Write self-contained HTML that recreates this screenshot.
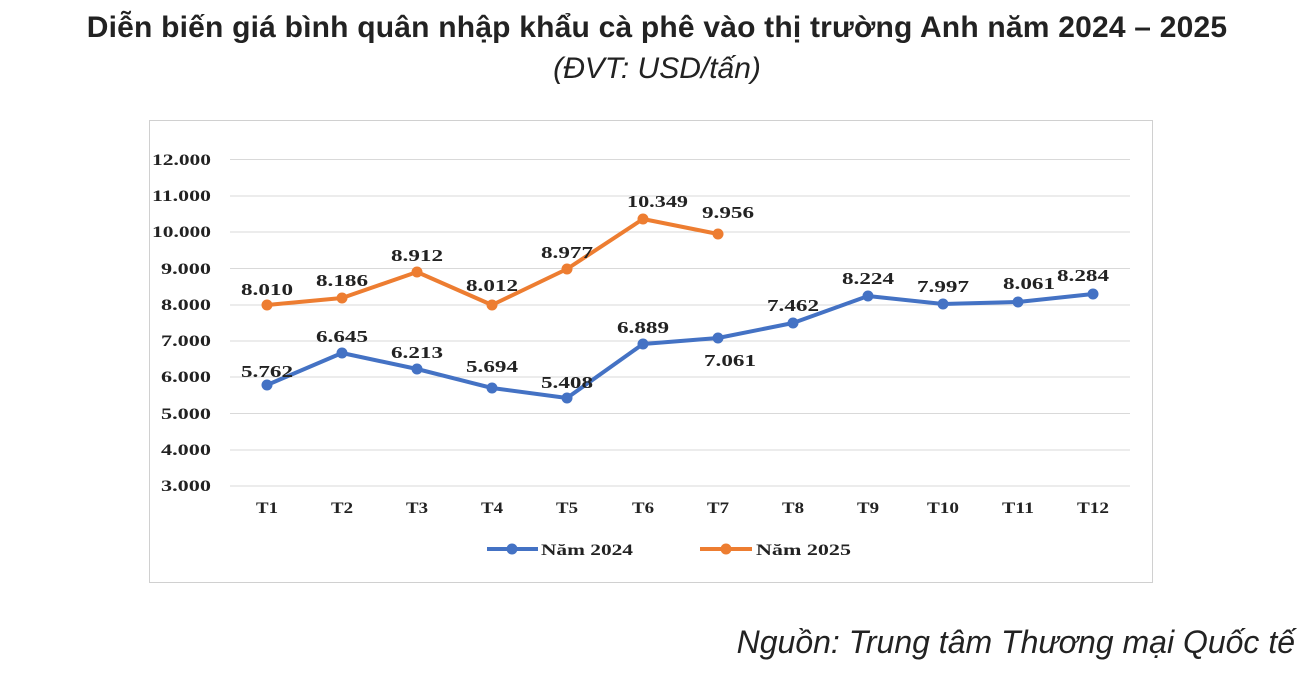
<!DOCTYPE html>
<html><head><meta charset="utf-8"><style>
body{margin:0;background:#fff;width:1314px;height:682px;overflow:hidden;position:relative;font-family:"Liberation Sans",sans-serif}
.t{position:absolute;left:0;width:1314px;text-align:center;color:#222}
</style></head><body>
<div class="t" style="top:11px;font-size:30px;font-weight:bold;letter-spacing:0.2px">Diễn biến giá bình quân nhập khẩu cà phê vào thị trường Anh năm 2024 – 2025</div>
<div class="t" style="top:52px;font-size:30px;font-style:italic">(ĐVT: USD/tấn)</div>
<div style="position:absolute;right:19px;top:624px;font-size:32px;font-style:italic;color:#222">Nguồn: Trung tâm Thương mại Quốc tế</div>
<svg style="position:absolute;left:0;top:0" width="1314" height="682" font-family="Liberation Serif,serif" font-weight="bold" font-size="16" lengthAdjust="spacingAndGlyphs">
<rect x="149.5" y="120.5" width="1003" height="462" fill="#fff" stroke="#d0d0d0"/>
<g stroke="#d9d9d9" stroke-width="1">
<line x1="230" x2="1130" y1="159.5" y2="159.5"/><line x1="230" x2="1130" y1="196" y2="196"/><line x1="230" x2="1130" y1="232" y2="232"/><line x1="230" x2="1130" y1="268.5" y2="268.5"/><line x1="230" x2="1130" y1="305" y2="305"/><line x1="230" x2="1130" y1="341" y2="341"/><line x1="230" x2="1130" y1="377" y2="377"/><line x1="230" x2="1130" y1="413.5" y2="413.5"/><line x1="230" x2="1130" y1="450" y2="450"/><line x1="230" x2="1130" y1="486" y2="486"/>
</g>
<g fill="#222">
<text x="152" y="165" textLength="59" lengthAdjust="spacingAndGlyphs">12.000</text><text x="152" y="201" textLength="59" lengthAdjust="spacingAndGlyphs">11.000</text><text x="152" y="237" textLength="59" lengthAdjust="spacingAndGlyphs">10.000</text><text x="161" y="274" textLength="50" lengthAdjust="spacingAndGlyphs">9.000</text><text x="161" y="310" textLength="50" lengthAdjust="spacingAndGlyphs">8.000</text><text x="161" y="346" textLength="50" lengthAdjust="spacingAndGlyphs">7.000</text><text x="161" y="382" textLength="50" lengthAdjust="spacingAndGlyphs">6.000</text><text x="161" y="419" textLength="50" lengthAdjust="spacingAndGlyphs">5.000</text><text x="161" y="455" textLength="50" lengthAdjust="spacingAndGlyphs">4.000</text><text x="161" y="491" textLength="50" lengthAdjust="spacingAndGlyphs">3.000</text>
</g>
<g fill="#222">
<text x="256" y="513" textLength="22" lengthAdjust="spacingAndGlyphs">T1</text><text x="331" y="513" textLength="22" lengthAdjust="spacingAndGlyphs">T2</text><text x="406" y="513" textLength="22" lengthAdjust="spacingAndGlyphs">T3</text><text x="481" y="513" textLength="22" lengthAdjust="spacingAndGlyphs">T4</text><text x="556" y="513" textLength="22" lengthAdjust="spacingAndGlyphs">T5</text><text x="632" y="513" textLength="22" lengthAdjust="spacingAndGlyphs">T6</text><text x="707" y="513" textLength="22" lengthAdjust="spacingAndGlyphs">T7</text><text x="782" y="513" textLength="22" lengthAdjust="spacingAndGlyphs">T8</text><text x="857" y="513" textLength="22" lengthAdjust="spacingAndGlyphs">T9</text><text x="927" y="513" textLength="32" lengthAdjust="spacingAndGlyphs">T10</text><text x="1002" y="513" textLength="32" lengthAdjust="spacingAndGlyphs">T11</text><text x="1077" y="513" textLength="32" lengthAdjust="spacingAndGlyphs">T12</text>
</g>
<polyline fill="none" stroke="#4472c4" stroke-width="4" stroke-linejoin="round" points="267,385 342,353 417,369 492,388 567,398 643,344 718,338 793,323 868,296 943,304 1018,302 1093,294"/>
<g fill="#4472c4"><circle cx="267" cy="385" r="5.5"/><circle cx="342" cy="353" r="5.5"/><circle cx="417" cy="369" r="5.5"/><circle cx="492" cy="388" r="5.5"/><circle cx="567" cy="398" r="5.5"/><circle cx="643" cy="344" r="5.5"/><circle cx="718" cy="338" r="5.5"/><circle cx="793" cy="323" r="5.5"/><circle cx="868" cy="296" r="5.5"/><circle cx="943" cy="304" r="5.5"/><circle cx="1018" cy="302" r="5.5"/><circle cx="1093" cy="294" r="5.5"/></g>
<polyline fill="none" stroke="#ed7d31" stroke-width="4" stroke-linejoin="round" points="267,305 342,298 417,272 492,305 567,269 643,219 718,234"/>
<g fill="#ed7d31"><circle cx="267" cy="305" r="5.5"/><circle cx="342" cy="298" r="5.5"/><circle cx="417" cy="272" r="5.5"/><circle cx="492" cy="305" r="5.5"/><circle cx="567" cy="269" r="5.5"/><circle cx="643" cy="219" r="5.5"/><circle cx="718" cy="234" r="5.5"/></g>
<g fill="#222" font-size="17">
<text x="241" y="377" textLength="52" lengthAdjust="spacingAndGlyphs">5.762</text><text x="316" y="342" textLength="52" lengthAdjust="spacingAndGlyphs">6.645</text><text x="391" y="358" textLength="52" lengthAdjust="spacingAndGlyphs">6.213</text><text x="466" y="372" textLength="52" lengthAdjust="spacingAndGlyphs">5.694</text><text x="541" y="388" textLength="52" lengthAdjust="spacingAndGlyphs">5.408</text><text x="617" y="333" textLength="52" lengthAdjust="spacingAndGlyphs">6.889</text><text x="704" y="366" textLength="52" lengthAdjust="spacingAndGlyphs">7.061</text><text x="767" y="311" textLength="52" lengthAdjust="spacingAndGlyphs">7.462</text><text x="842" y="284" textLength="52" lengthAdjust="spacingAndGlyphs">8.224</text><text x="917" y="292" textLength="52" lengthAdjust="spacingAndGlyphs">7.997</text><text x="1003" y="289" textLength="52" lengthAdjust="spacingAndGlyphs">8.061</text><text x="1057" y="281" textLength="52" lengthAdjust="spacingAndGlyphs">8.284</text>
<text x="241" y="295" textLength="52" lengthAdjust="spacingAndGlyphs">8.010</text><text x="316" y="286" textLength="52" lengthAdjust="spacingAndGlyphs">8.186</text><text x="391" y="261" textLength="52" lengthAdjust="spacingAndGlyphs">8.912</text><text x="466" y="291" textLength="52" lengthAdjust="spacingAndGlyphs">8.012</text><text x="541" y="258" textLength="52" lengthAdjust="spacingAndGlyphs">8.977</text><text x="627" y="207" textLength="61" lengthAdjust="spacingAndGlyphs">10.349</text><text x="702" y="218" textLength="52" lengthAdjust="spacingAndGlyphs">9.956</text>
</g>
<line x1="487" x2="538" y1="549" y2="549" stroke="#4472c4" stroke-width="4"/><circle cx="512" cy="549" r="5.5" fill="#4472c4"/>
<text x="541" y="555" fill="#222" textLength="92" lengthAdjust="spacingAndGlyphs">Năm 2024</text>
<line x1="700" x2="752" y1="549" y2="549" stroke="#ed7d31" stroke-width="4"/><circle cx="726" cy="549" r="5.5" fill="#ed7d31"/>
<text x="756" y="555" fill="#222" textLength="95" lengthAdjust="spacingAndGlyphs">Năm 2025</text>
</svg>
</body></html>
